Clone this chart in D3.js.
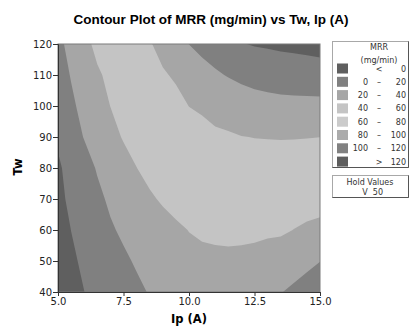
<!DOCTYPE html>
<html><head><meta charset="utf-8">
<script src="https://cdn.jsdelivr.net/npm/d3@7/dist/d3.min.js"></script>
<style>body{margin:0;background:#fff} text{font-family:"DejaVu Sans",Verdana,sans-serif}</style>
</head><body>
<svg id="chart" width="410" height="327"></svg>
<script>
// ---- data ----
const ipValues = [5,5.5,6,6.5,7,7.5,8,8.5,9,9.5,10,10.5,11,11.5,12,12.5,13,13.5,14,14.5,15];
const twValues = [120,110,100,90,80,70,60,50,40];
// MRR (mg/min), one row per Tw value, one column per Ip value (V held at 50)
const mrrTw120 = [15.2,25.7,36.2,43.2,46.3,47.0,45.3,41.3,34.6,27.0,19.8,15.5,10.9,6.4,0.8,-1.2,-2.2,-3.5,-4.5,-5.6,-7.0];
const mrrTw110 = [12.2,20.9,29.6,38.3,42.8,45.1,45.9,45.2,41.8,37.8,31.4,25.9,22.4,18.9,16.1,13.7,12.4,11.2,10.5,9.8,9.1];
const mrrTw100 = [9.4,17.1,24.7,32.4,40.2,45.9,49.6,51.1,50.6,45.0,39.8,38.0,35.5,32.0,29.1,27.3,26.1,25.2,24.9,24.8,24.8];
const mrrTw90  = [2.5,12.8,20.7,27.6,34.5,41.3,46.5,50.0,51.8,51.9,47.3,44.5,42.3,41.9,40.4,39.7,39.5,39.4,39.5,39.7,39.95];
const mrrTw80  = [-2.5,5.8,13.7,21.25,27.5,33.75,39.8,45.5,49.0,51.3,49.0,47.5,47.2,46.9,46.6,46.5,46.5,45.8,45.6,46.0,46.2];
const mrrTw70  = [-3.8,3.0,9.8,16.6,22.5,27.5,32.5,37.5,42.2,46.2,47.0,46.8,47.2,47.5,47.6,47.6,47.4,45.8,45.6,45.3,45.0];
const mrrTw60  = [-6.1,0.1,6.05,12.1,18.2,22.5,26.1,29.6,33.2,36.8,40.4,42.4,43.3,43.9,43.8,43.5,42.6,42.0,39.8,38.0,36.5];
const mrrTw50  = [-7.5,-2.5,2.5,7.5,12.5,17.5,21.6,25.2,28.9,32.4,35.0,36.0,36.5,36.6,36.1,35.0,33.0,32.5,28.3,24.8,20.4];
const mrrTw40  = [-8.5,-4.3,-0.1,4.3,8.5,12.8,17.0,20.9,23.9,26.5,29.0,30.0,30.0,29.0,28.0,26.0,23.0,20.7,16.6,11.6,6.0];
const mrrRows = [mrrTw120,mrrTw110,mrrTw100,mrrTw90,mrrTw80,mrrTw70,mrrTw60,mrrTw50,mrrTw40];

const levels = [0,20,40,60,80,100,120];
const bandColors = ["#5f5f5f","#808080","#a6a6a6","#c4c4c4","#cbcbcb","#ababab","#818181","#5e5e5e"];
const legendLeft  = ["","0","20","40","60","80","100",""];
const legendMid   = ["<","\u2013","\u2013","\u2013","\u2013","\u2013","\u2013",">"];
const legendRight = ["0","20","40","60","80","100","120","120"];
const xTicks = [5,7.5,10,12.5,15];
const yTicks = [40,50,60,70,80,90,100,110,120];
const holdName = "V", holdValue = "50";

// ---- drawing ----
const svg = d3.select("#chart");
const x = d3.scaleLinear().domain([5,15]).range([58,320]);
const y = d3.scaleLinear().domain([40,120]).range([292,44]);
const nx = ipValues.length, ny = twValues.length;
const gx = d3.scaleLinear().domain([0.5, nx-0.5]).range([ipValues[0], ipValues[nx-1]]);
const gy = d3.scaleLinear().domain([0.5, ny-0.5]).range([twValues[0], twValues[ny-1]]);

svg.append("defs").append("clipPath").attr("id","plotclip")
  .append("rect").attr("x",x(5)).attr("y",y(120)).attr("width",x(15)-x(5)).attr("height",y(40)-y(120));

const plot = svg.append("g").attr("clip-path","url(#plotclip)");
plot.append("rect").attr("x",x(5)).attr("y",y(120)).attr("width",x(15)-x(5)).attr("height",y(40)-y(120))
  .attr("fill",bandColors[0]);

const flat = mrrRows.flat();
const contours = d3.contours().size([nx,ny]).thresholds(levels)(flat);
const path = d3.geoPath(d3.geoTransform({point(px,py){ this.stream.point(x(gx(px)), y(gy(py))); }}));
plot.selectAll("path.band").data(contours).join("path").attr("class","band")
  .attr("d",path).attr("fill",(d,i)=>bandColors[i+1]).attr("stroke","none");

// frame
svg.append("rect").attr("x",x(5)).attr("y",y(120)).attr("width",x(15)-x(5)).attr("height",y(40)-y(120))
  .attr("fill","none").attr("stroke","#7a7a7a").attr("stroke-width",1);

// axes
const ax = svg.append("g").attr("transform",`translate(0,${y(40)})`)
  .call(d3.axisBottom(x).tickValues(xTicks).tickFormat(d3.format(".1f")).tickSize(4).tickPadding(2));
const ay = svg.append("g").attr("transform",`translate(${x(5)},0)`)
  .call(d3.axisLeft(y).tickValues(yTicks).tickSize(5).tickPadding(1));
[ax,ay].forEach(a=>{
  a.select(".domain").attr("stroke","#333");
  a.selectAll(".tick line").attr("stroke","#333");
  a.selectAll(".tick text").attr("fill","#222").style("font-size","10px").style("font-family","DejaVu Sans");
});

// titles
svg.append("text").attr("x",211).attr("y",24).attr("text-anchor","middle")
  .style("font-family","Liberation Sans, Arial").style("font-weight","bold").style("font-size","13.5px")
  .text("Contour Plot of MRR (mg/min) vs Tw, Ip (A)");
svg.append("text").attr("x",189).attr("y",323).attr("text-anchor","middle")
  .style("font-weight","bold").style("font-size","11.5px").text("Ip (A)");
svg.append("text").attr("transform","translate(22,167) rotate(-90)").attr("text-anchor","middle")
  .style("font-weight","bold").style("font-size","11.5px").text("Tw");

// legend
const lg = svg.append("g");
lg.append("rect").attr("x",332.5).attr("y",41.5).attr("width",76).attr("height",126)
  .attr("fill","#fff").attr("stroke","#a8a8a8");
lg.append("path").attr("d","M332.5,167.5H408.5V41.5").attr("fill","none").attr("stroke","#555");
lg.append("text").attr("x",379).attr("y",50).attr("text-anchor","middle").style("font-size","8px").attr("fill","#333").text("MRR");
lg.append("text").attr("x",379).attr("y",63).attr("text-anchor","middle").style("font-size","8px").attr("fill","#333").text("(mg/min)");
const rows = lg.selectAll("g.row").data(bandColors).join("g").attr("class","row")
  .attr("transform",(d,i)=>`translate(0,${68.5+i*13.3})`);
rows.append("rect").attr("x",337).attr("y",-5).attr("width",11).attr("height",10).attr("fill",d=>d);
rows.append("text").attr("x",368).attr("y",3).attr("text-anchor","end").style("font-size","8px").attr("fill","#333").text((d,i)=>legendLeft[i]);
rows.append("text").attr("x",379).attr("y",3).attr("text-anchor","middle").style("font-size","8px").attr("fill","#333").text((d,i)=>legendMid[i]);
rows.append("text").attr("x",406).attr("y",3).attr("text-anchor","end").style("font-size","8px").attr("fill","#333").text((d,i)=>legendRight[i]);

lg.append("rect").attr("x",332.5).attr("y",175.5).attr("width",76).attr("height",22)
  .attr("fill","#fff").attr("stroke","#a8a8a8");
lg.append("path").attr("d","M332.5,197.5H408.5V175.5").attr("fill","none").attr("stroke","#555");
lg.append("text").attr("x",370).attr("y",185).attr("text-anchor","middle").style("font-size","8px").attr("fill","#333").text("Hold Values");
lg.append("text").attr("x",365).attr("y",194.5).attr("text-anchor","middle").style("font-size","8px").attr("fill","#333").text(holdName);
lg.append("text").attr("x",383).attr("y",194.5).attr("text-anchor","end").style("font-size","8px").attr("fill","#333").text(holdValue);
</script>
</body></html>
